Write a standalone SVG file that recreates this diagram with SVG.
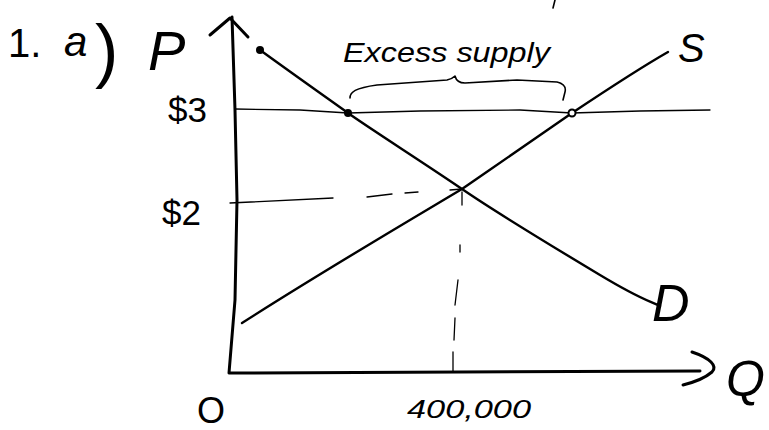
<svg xmlns="http://www.w3.org/2000/svg" width="769" height="430" viewBox="0 0 769 430">
<style>
.ax{fill:none;stroke:#000;stroke-width:3;stroke-linecap:round;stroke-linejoin:round}
.cv{fill:none;stroke:#000;stroke-width:2.4;stroke-linecap:round;stroke-linejoin:round}
.gd{fill:none;stroke:#000;stroke-width:1.3;stroke-linecap:round}
.br{fill:none;stroke:#000;stroke-width:1.6;stroke-linecap:round;stroke-linejoin:round}
.t{font-family:"Liberation Sans","DejaVu Sans",sans-serif;fill:#000}
.i{font-style:italic}
.dot{fill:#000}
</style>
<rect width="769" height="430" fill="#fff"/>
<g id="axes">
<path class="ax" d="M232,17 L235,110 L237,200 L235,300 L229,373 L700,371"/>
<path class="ax" d="M210,35 L230,18 L248,37"/>
<path class="ax" d="M692,352 C710,358 718,366 712,372 C705,378 695,382 683,385"/>
</g>
<g id="connectors">
<path id="demand" class="cv" d="M260,50 C300,79 330,100 348,113 S430,167 462,189 S560,251 600,275 S645,299 660,306"/>
<path id="supply" class="cv" d="M242,323 C320,273 400,226 462,189 C500,163 540,135 572,113 C605,91 640,68 668,52"/>
<path id="p3line" class="gd" d="M235,109 L300,110 L348,113 L420,111 L520,110 L572,113 L640,111 L710,110"/>
<path id="p2dash" class="gd" d="M230,203 L333,198 M367,197 L392,194 M405,193 L418,192 M450,190 L462,189"/>
<path id="qdash" class="gd" d="M462,192 L462,205 M460,245 L460,252 M458,280 L455,305 M455,318 L454,340 M453,352 L453,372"/>
<path id="brace" class="br" d="M350,98 C350,92 355,88 377,85 L447,80 C452,79 454,77 455,76 C456,80 458,83 465,83 L517,80 L557,82 C565,84 566,88 565,92 L563,100"/>
<path class="br" d="M555,0 L553,8"/>
</g>
<g id="points">
<circle class="dot" cx="260" cy="50" r="4"/>
<circle class="dot" cx="348" cy="113" r="4"/>
<circle cx="572" cy="113" r="3.5" fill="#fff" stroke="#000" stroke-width="2"/>
</g>
<g id="labels">
<text class="t" x="8" y="57" font-size="40">1.</text>
<text class="t i" x="64" y="56" font-size="42">a</text>
<text class="t" x="95" y="74" font-size="70">)</text>
<text class="t i" x="148" y="70" font-size="56">P</text>
<text class="t" x="168" y="122" font-size="35">$3</text>
<text class="t" x="162" y="225" font-size="35">$2</text>
<text class="t i" x="343" y="62" font-size="28" textLength="207" lengthAdjust="spacingAndGlyphs">Excess supply</text>
<text class="t i" x="678" y="62" font-size="40">S</text>
<text class="t i" x="652" y="321" font-size="52">D</text>
<text class="t i" x="726" y="396" font-size="50">Q</text>
<text class="t" x="197" y="423" font-size="36">O</text>
<text class="t i" x="407" y="418" font-size="26" textLength="124" lengthAdjust="spacingAndGlyphs">400,000</text>
</g>
</svg>
